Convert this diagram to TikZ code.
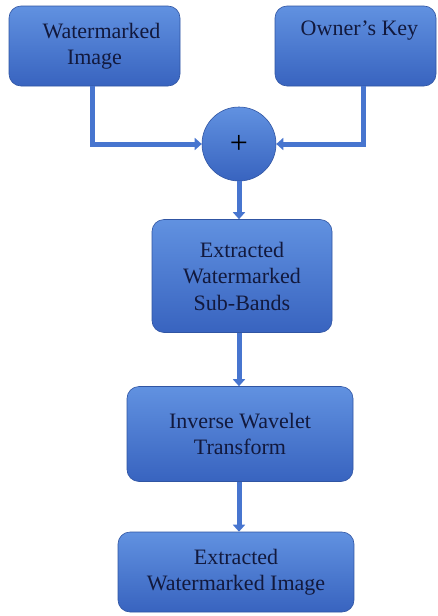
\documentclass[tikz,border=0pt]{standalone}
\usepackage{fontspec}
\setmainfont{Liberation Serif}
\usetikzlibrary{arrows.meta}

\definecolor{boxtop}{rgb}{0.38,0.57,0.88}
\definecolor{boxbottom}{rgb}{0.22,0.39,0.75}
\definecolor{flowblue}{rgb}{0.28,0.46,0.81}
\definecolor{labelnavy}{rgb}{0.07,0.10,0.24}

\tikzset{
  blockbox/.style={draw=boxbottom!85!black, line width=0.6pt, rounded corners=12pt,
    top color=boxtop, bottom color=boxbottom, text=labelnavy, align=center,
    inner sep=0pt, font=\fontsize{22}{26.5}\selectfont},
  sumnode/.style={circle, draw=boxbottom!85!black, line width=0.6pt,
    top color=boxtop, bottom color=boxbottom, minimum size=74pt, inner sep=0pt,
    text=black, font=\fontsize{32}{32}\selectfont},
  flowline/.style={flowblue, line width=5pt, -{Triangle[width=12pt,length=7pt]}}
}

\begin{document}
\begin{tikzpicture}[x=1pt,y=-1pt]
\useasboundingbox (0,0) rectangle (437,616);
\fill[white] (0,0) rectangle (437,616);
% input blocks
\node[blockbox, minimum width=171pt, minimum height=80pt] (wmimg) at (94.5,46) {\hspace*{14pt}Watermarked\\Image};
\node[blockbox, minimum width=161pt, minimum height=80pt] (ownkey) at (355.5,46) {\hspace*{8pt}Owner's Key\\[2pt]\strut};
\node[sumnode] (plus) at (239,144) {+};
% extraction chain
\node[blockbox, minimum width=180pt, minimum height=113pt] (subbands) at (242,276) {Extracted\\Watermarked\\Sub-Bands};
\node[blockbox, minimum width=226pt, minimum height=95pt] (invwave) at (240,434) {Inverse Wavelet\\Transform};
\node[blockbox, minimum width=236pt, minimum height=80pt] (outimg) at (236,572) {Extracted\\Watermarked Image};
% connectors
\draw[flowline] ([xshift=-2pt]wmimg.south) |- (plus.west);
\draw[flowline] ([xshift=8pt]ownkey.south) |- (plus.east);
\draw[flowline] (plus.south) -- (plus.south |- subbands.north);
\draw[flowline] (plus.south |- subbands.south) -- (plus.south |- invwave.north);
\draw[flowline] (plus.south |- invwave.south) -- (plus.south |- outimg.north);
\end{tikzpicture}
\end{document}
